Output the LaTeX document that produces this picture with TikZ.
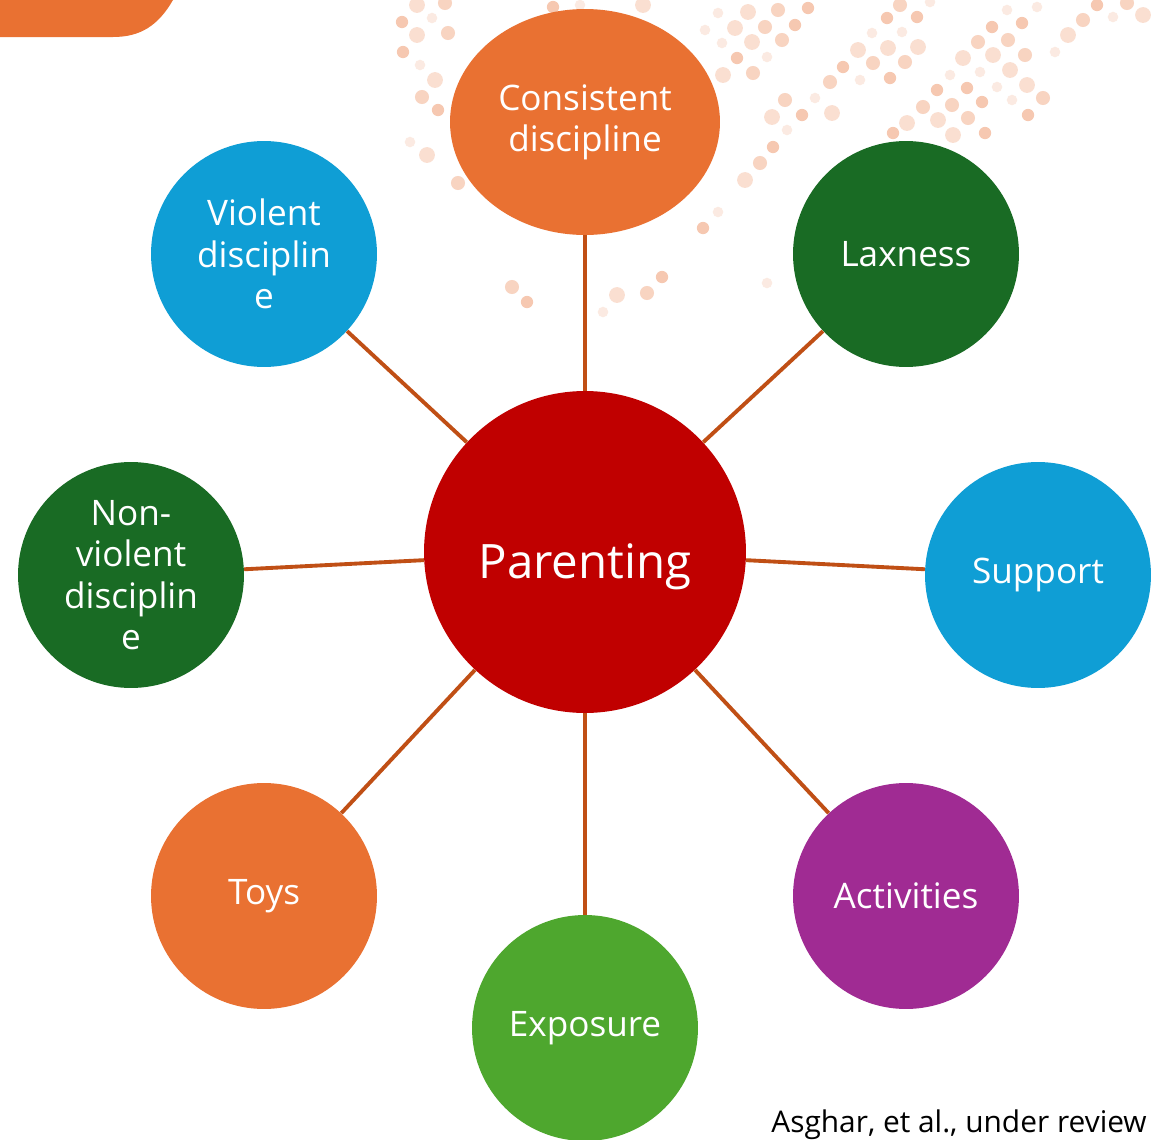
\documentclass[tikz,border=0pt]{standalone}
\usepackage{fontspec}
\setmainfont{Open Sans}
\usetikzlibrary{shapes.geometric}

\definecolor{accorange}{HTML}{E97132}
\definecolor{accdkgreen}{HTML}{196B24}
\definecolor{accblue}{HTML}{0F9ED5}
\definecolor{accpurple}{HTML}{A02B93}
\definecolor{accgreen}{HTML}{4EA72E}
\definecolor{accred}{HTML}{C00000}
\definecolor{spokecol}{HTML}{C04F15}

\tikzset{
  bubble/.style={circle, minimum size=4.52cm, inner sep=0pt, text=white, align=center,
    font=\fontsize{20}{23.5}\selectfont},
  spoke/.style={line width=2.2pt, draw=spokecol},
  dot/.style={fill=accorange}
}

\begin{document}
\begin{tikzpicture}[x=0.02cm,y=-0.02cm]
\clip (0,0) rectangle (1161,1140);
\fill[white] (0,0) rectangle (1161,1140);
\fill[accorange] (0,0) -- (173,0) .. controls (158,26) and (140,37) .. (113,37) -- (0,37) -- cycle;
\foreach \px/\py [count=\n] in {417/5,445/3,402/22,432/18,417/35,448/33,403/52,420/65,435/80,422/97,
  438/110,410/142,427/155,458/183,553/7,580/5,643/5,512/287,527/302,603/312,617/295,647/293,662/277,
  718/13,748/12,778/10,808/8,705/30,735/28,765/27,795/25,722/43,752/42,782/40,737/58,767/57,723/75,753/73,
  703/228,718/212,745/180,760/163,773/147,787/130,772/117,785/100,802/115,815/98,832/113,830/82,843/67,
  860/80,858/50,873/63,890/78,872/33,888/48,905/62,887/18,902/32,918/47,900/5,917/17,930/2,
  907/123,923/107,937/90,950/75,963/58,978/42,992/27,1007/10,938/120,952/105,967/88,980/72,993/55,
  1008/40,1022/23,1037/7,953/135,968/118,982/102,997/87,1010/70,1025/55,985/133,1012/100,1027/85,
  1043/98,1028/115,1055/52,1068/35,1083/20,1097/5,1113/17,1143/15,1127/3,893/133,767/283}
{
  \pgfmathsetmacro\op{0.14+0.08*mod(\n*5,4)}
  \pgfmathsetmacro\rr{3.0+0.5*mod(\n*7,4)}
  \fill[dot,opacity=\op] (\px,\py) circle [radius=\rr pt];
}

\node[circle, fill=accred, minimum size=6.44cm, inner sep=0pt, text=white,
  text height=1.04cm, text depth=0pt,
  font=\fontsize{27}{30}\selectfont] (parent) at (585,552) {Parenting};
\node[ellipse, fill=accorange, minimum width=5.4cm, minimum height=4.52cm, inner sep=0pt,
  text=white, align=center, font=\fontsize{20}{23.5}\selectfont] (consist) at (585,122) {Consistent\\discipline};
\node[bubble, fill=accdkgreen] (lax) at (906,254) {Laxness};
\node[bubble, fill=accblue] (violent) at (264,254) {Violent\\disciplin\\e};
\node[bubble, fill=accdkgreen] (nonviol) at (131,575) {Non-\\violent\\disciplin\\e};
\node[bubble, fill=accblue] (support) at (1038,575) {Support};
\node[bubble, fill=accorange] (toys) at (264,896) {Toys};
\node[bubble, fill=accpurple] (activ) at (906,896) {Activities};
\node[bubble, fill=accgreen] (expo) at (585,1028) {Exposure};

\draw[spoke] (consist) -- (parent);
\draw[spoke] (violent) -- (parent);
\draw[spoke] (lax) -- (parent);
\draw[spoke] (nonviol) -- (parent);
\draw[spoke] (support) -- (parent);
\draw[spoke] (toys) -- (parent);
\draw[spoke] (activ) -- (parent);
\draw[spoke] (expo) -- (parent);

\node[anchor=base west, inner sep=0pt, font=\fontsize{17}{20}\selectfont] (cite) at (771,1132) {Asghar, et al., under review};
\end{tikzpicture}
\end{document}
